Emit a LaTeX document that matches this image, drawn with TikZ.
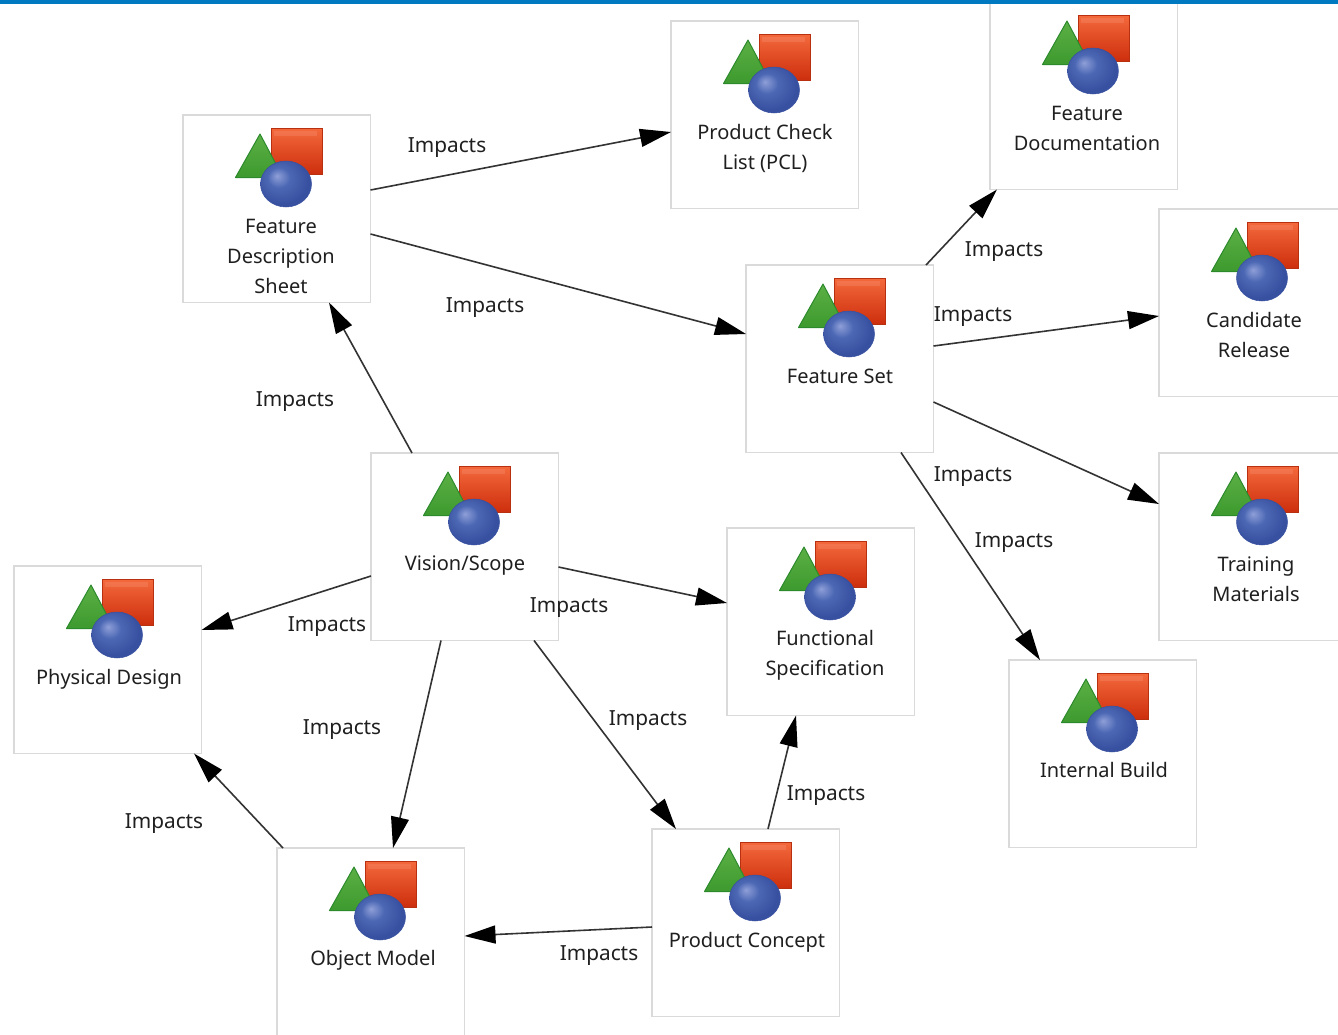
\documentclass[tikz,border=0pt]{standalone}
\usepackage{fontspec}
\setmainfont{Noto Sans}
\usetikzlibrary{arrows.meta,calc}
\definecolor{bar}{HTML}{0079C1}
\definecolor{edgegray}{HTML}{DADADA}
\definecolor{sqtop}{HTML}{F4693C}
\definecolor{sqbot}{HTML}{CC2E0C}
\definecolor{sqedge}{HTML}{B8300F}
\definecolor{trtop}{HTML}{5CB045}
\definecolor{trbot}{HTML}{3D9A2E}
\definecolor{tredge}{HTML}{2C8A2C}
\definecolor{ballhi}{HTML}{8F9FD8}
\definecolor{ballmid}{HTML}{4C68B4}
\definecolor{ballout}{HTML}{3850A0}
\pgfdeclareradialshading{trioball}{\pgfpoint{-9bp}{9bp}}{%
  color(0bp)=(ballhi); color(11bp)=(ballmid); color(26bp)=(ballout); color(50bp)=(ballout)}
\tikzset{
  x=1pt,y=-1pt,
  shapebox/.style={draw=edgegray,line width=1.5pt,fill=white,minimum width=187.5pt,minimum height=187.5pt,inner sep=0pt,outer sep=0pt,anchor=north west},
  caption/.style={font=\fontsize{20}{30}\selectfont,align=center,inner sep=0pt,text=black!88},
  rel/.style={draw=black!80,line width=1.6pt,-{Triangle[length=31pt,width=18pt,color=black]}},
  rellabel/.style={font=\fontsize{20.8}{24}\selectfont,inner sep=0pt,text=black!88},
  trio/.pic={
    \draw[draw=sqedge,line width=.8pt,top color=sqtop,bottom color=sqbot] (88,13) rectangle (139.5,59.5);
    \fill[white,opacity=.1] (91,16) rectangle (134,21);
    \draw[draw=tredge,line width=1pt,line join=round,top color=trtop,bottom color=trbot] (77,19) -- (52.5,62.5) -- (100,62.5) -- cycle;
    \shade[shading=trioball,draw=ballout,line width=.5pt] (103,69) ellipse [x radius=25.5,y radius=23];
  }
}
\begin{document}
\begin{tikzpicture}
\useasboundingbox (0,0) rectangle (1338,1034);
\clip (0,0) rectangle (1338,1034);
\fill[white] (0,0) rectangle (1338,1034);
% boxes
\node[shapebox] (fds) at (183,115) {};
\node[shapebox] (pcl) at (671,21) {};
\node[shapebox] (doc) at (990,2) {};
\node[shapebox] (cr) at (1159,209) {};
\node[shapebox] (tm) at (1159,453) {};
\node[shapebox] (fs) at (746,265) {};
\node[shapebox] (vs) at (371,453) {};
\node[shapebox] (spec) at (727,528) {};
\node[shapebox] (ib) at (1009,660) {};
\node[shapebox] (pd) at (14,566) {};
\node[shapebox] (om) at (277,848) {};
\node[shapebox] (pc) at (652,829) {};
% icons
\foreach \n in {fds,pcl,doc,cr,tm,fs,vs,spec,ib,pd,om,pc}
  \pic at (\n.north west) {trio};
% captions
\node[caption] (fdst) at (281,256) {Feature\\Description\\Sheet};
\node[caption] (pclt) at (765,148) {Product Check\\List (PCL)};
\node[caption] (doct) at (1087,128) {Feature\\Documentation};
\node[caption] (crt) at (1254,335) {Candidate\\Release};
\node[caption] (tmt) at (1256,579) {Training\\Materials};
\node[caption] (fst) at (840,376) {Feature Set};
\node[caption] (vst) at (465,566) {Vision/Scope};
\node[caption] (spect) at (825,655) {Functional\\Specification};
\node[caption] (ibt) at (1104,770) {Internal Build};
\node[caption] (pdt) at (109,679) {Physical Design};
\node[caption] (omt) at (373,960) {Object Model};
\node[caption] (pct) at (747,942) {Product Concept};
% connectors
\draw[rel] ($(fds.north east)+(0,75)$) -- ($(pcl.north west)+(0,111)$);
\draw[rel] ($(fds.north east)+(0,119)$) -- ($(fs.north west)+(0,69)$);
\draw[rel] ($(vs.north west)+(41,0)$) -- ($(fds.south west)+(146,0)$);
\draw[rel] ($(fs.north west)+(180,0)$) -- ($(doc.south west)+(7,0)$);
\draw[rel] ($(fs.north east)+(0,81)$) -- ($(cr.north west)+(0,107)$);
\draw[rel] ($(fs.north east)+(0,137)$) -- ($(tm.north west)+(0,51)$);
\draw[rel] ($(fs.south west)+(155,0)$) -- ($(ib.north west)+(31,0)$);
\draw[rel] ($(vs.north east)+(0,114)$) -- ($(spec.north west)+(0,75)$);
\draw[rel] ($(vs.north west)+(0,123)$) -- ($(pd.north east)+(0,64)$);
\draw[rel] ($(vs.south west)+(70,0)$) -- ($(om.north west)+(116,0)$);
\draw[rel] ($(vs.south west)+(163,0)$) -- ($(pc.north west)+(24,0)$);
\draw[rel] ($(pc.north west)+(116,0)$) -- ($(spec.south west)+(69,0)$);
\draw[rel] ($(pc.north west)+(0,98)$) -- ($(om.north east)+(0,88)$);
\draw[rel] ($(om.north west)+(6,0)$) -- ($(pd.south west)+(180,0)$);
% connector labels
\node[rellabel] (l1) at (447,147.5) {Impacts};
\node[rellabel] (l2) at (485,307.5) {Impacts};
\node[rellabel] (l3) at (295,401.5) {Impacts};
\node[rellabel] (l4) at (1004,251.5) {Impacts};
\node[rellabel] (l5) at (973,316.5) {Impacts};
\node[rellabel] (l6) at (973,476.5) {Impacts};
\node[rellabel] (l7) at (1014,542.5) {Impacts};
\node[rellabel] (l8) at (569,607.5) {Impacts};
\node[rellabel] (l9) at (327,626.5) {Impacts};
\node[rellabel] (l10) at (342,729.5) {Impacts};
\node[rellabel] (l11) at (648,720.5) {Impacts};
\node[rellabel] (l12) at (826,795.5) {Impacts};
\node[rellabel] (l13) at (599,955.5) {Impacts};
\node[rellabel] (l14) at (164,823.5) {Impacts};
% top bar
\fill[bar] (0,0) rectangle (1338,4);
\end{tikzpicture}
\end{document}
